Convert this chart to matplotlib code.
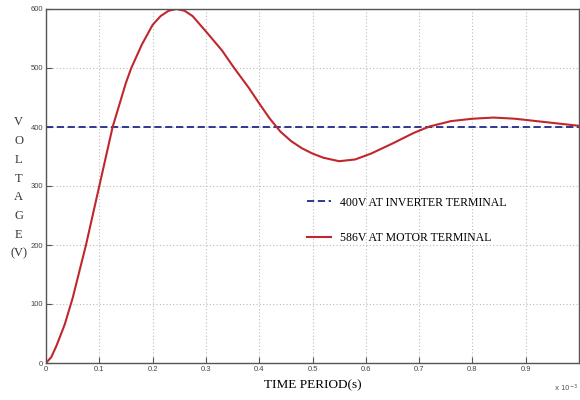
import matplotlib.pyplot as plt

# time in units of 1e-3 s, voltage in V
t = [0, 0.01, 0.02, 0.035, 0.05, 0.075, 0.1, 0.125, 0.15, 0.16, 0.18, 0.2, 0.215,
     0.23, 0.245, 0.26, 0.275, 0.3, 0.33, 0.353, 0.38, 0.4, 0.42, 0.44, 0.46,
     0.48, 0.5, 0.52, 0.55, 0.58, 0.61, 0.65, 0.69, 0.72, 0.76, 0.8, 0.84, 0.88,
     0.92, 0.96, 1.0]
v_motor = [0, 10, 30, 65, 110, 200, 300, 400, 475, 500, 540, 573, 588,
           597, 600, 597, 588, 562, 530, 500, 467, 440, 414, 392, 376,
           364, 355, 348, 342, 345, 355, 372, 390, 401, 410, 414, 416, 414,
           410, 406, 402]
v_inverter = 400

x_ticks = [0, 0.1, 0.2, 0.3, 0.4, 0.5, 0.6, 0.7, 0.8, 0.9]
y_ticks = [0, 100, 200, 300, 400, 500, 600]

fig = plt.figure(figsize=(5.8, 4), dpi=100)
ax = fig.add_axes([0.0793, 0.0925, 0.919, 0.885])

ax.axhline(v_inverter, color='#1f2a8a', linestyle='--', linewidth=1.3,
           dashes=(4, 2), label='400V AT INVERTER TERMINAL')
ax.plot(t, v_motor, color='#c0272d', linewidth=1.5, label='586V AT MOTOR TERMINAL')

ax.set_xlim(0, 1.0)
ax.set_ylim(0, 600)
ax.set_xticks(x_ticks)
ax.set_yticks(y_ticks)
ax.set_xticklabels(['0', '0.1', '0.2', '0.3', '0.4', '0.5', '0.6', '0.7', '0.8', '0.9'])
for lab in ax.get_xticklabels() + ax.get_yticklabels():
    lab.set_family('Liberation Sans')
    lab.set_fontsize(5.5)
    lab.set_color('#444444')
ax.tick_params(direction='in', length=4, color='#555555', pad=2)
ax.grid(True, linestyle=(0, (1, 2)), color='#bbbbbb', linewidth=0.8)
for s in ax.spines.values():
    s.set_color('#555555')
    s.set_linewidth(1.0)

ax.set_xlabel('TIME PERIOD(s)', family='Liberation Serif', fontsize=9.5, labelpad=5)
fig.text(0.032, 0.53, 'V\nO\nL\nT\nA\nG\nE\n(V)', family='Liberation Serif',
         fontsize=9, ha='center', va='center', linespacing=1.75, color='#333333')
fig.text(0.955, 0.02, r'x 10$^{-3}$', fontsize=5, color='#555555')

leg = ax.legend(loc='upper left', bbox_to_anchor=(0.47, 0.50), frameon=False,
                prop={'family': 'Liberation Serif', 'size': 8.5},
                handlelength=2.0, labelspacing=2.0)

fig.savefig('out.png', dpi=100)
